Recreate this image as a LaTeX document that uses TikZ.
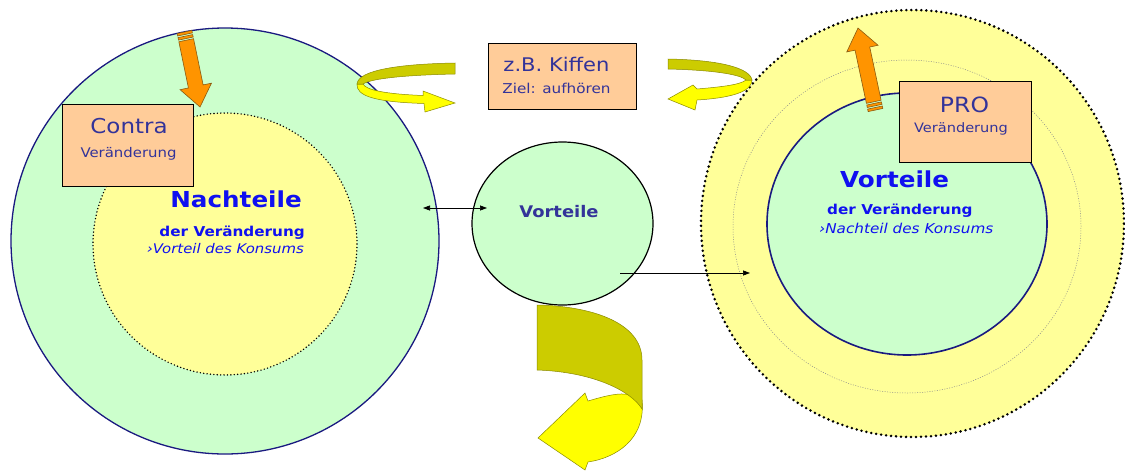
\documentclass[tikz,border=0pt]{standalone}
\usepackage{fontspec}
\setmainfont{DejaVu Sans}[FakeStretch=1.12]
\usetikzlibrary{shapes.geometric,arrows.meta}
\definecolor{pgreen}{HTML}{CCFFCC}
\definecolor{pyellow}{HTML}{FFFF99}
\definecolor{peach}{HTML}{FFCC99}
\definecolor{navy}{HTML}{1A1A80}
\definecolor{tdark}{HTML}{333399}
\definecolor{tblue}{HTML}{1010F0}
\definecolor{olivef}{HTML}{CCCC00}
\definecolor{brightf}{HTML}{FFFF00}
\definecolor{oliveedge}{HTML}{8A8A00}
\definecolor{orng}{HTML}{FF9400}
\definecolor{orngedge}{HTML}{8A5A10}
\newcommand\blockarr[4]{% x, y of tail, angle, length
  \begin{scope}[shift={(#1,#2)}, rotate=#3]
    \fill[orng, draw=orngedge, line width=0.6pt] (0,-7.5) rectangle (2.5,7.5);
    \fill[orng, draw=orngedge, line width=0.6pt] (4.2,-7.5) rectangle (6.7,7.5);
    \filldraw[fill=orng, draw=orngedge, line width=0.6pt]
      (8.4,-7.5) -- ({#4-21},-7.5) -- ({#4-21},-16) -- (#4,0) -- ({#4-21},16) -- ({#4-21},7.5) -- (8.4,7.5) -- cycle;
  \end{scope}}
\begin{document}
\begin{tikzpicture}[x=1pt,y=-1pt,
  circ/.style={ellipse, inner sep=0pt},
  boxst/.style={draw=black, line width=0.9pt, fill=peach, inner sep=0pt},
  txt/.style={inner sep=0pt, text=tdark, anchor=base},
  btxt/.style={inner sep=0pt, text=tblue},
  conn/.style={line width=0.7pt},
  curlA/.style={fill=olivef, draw=oliveedge, line width=0.5pt},
  curlB/.style={fill=brightf, draw=oliveedge, line width=0.5pt}]
\useasboundingbox (0,0) rectangle (1125,472);
\fill[white] (0,0) rectangle (1125,472);

% ---------- left circle ----------
\node[circ, fill=pgreen, draw=navy, line width=1.3pt, minimum width=428pt, minimum height=426pt] (L) at (225,241) {};
\node[circ, fill=pyellow, draw=black, line width=1.6pt, dash pattern=on 0pt off 3.4pt, line cap=round, minimum width=264pt, minimum height=262pt] (Li) at (225,244) {};
\node[boxst, minimum width=131pt, minimum height=82pt, anchor=north west] (contra) at (62,104) {};
\node[txt, font=\fontsize{20.5}{22}\selectfont] (contraT) at (129,133) {Contra};
\node[txt, font=\fontsize{13.3}{15}\selectfont] (contraV) at (128.5,157) {Veränderung};
\blockarr{184.5}{32}{-78.3}{76.6}
\node[btxt, anchor=base east, font=\bfseries\fontsize{22}{24}\selectfont] (nach) at (302,207) {Nachteile};
\node[btxt, anchor=base east, font=\bfseries\fontsize{13.6}{15}\selectfont] (nachD) at (305,236) {der Veränderung};
\node[btxt, anchor=base east, font=\itshape\fontsize{13.3}{15}\selectfont] (nachV) at (304,253) {›Vorteil des Konsums};

% ---------- center circle ----------
\node[circ, fill=pgreen, draw=black, line width=1.2pt, minimum width=181pt, minimum height=163pt] (C) at (562.5,223.5) {};
\node[txt, font=\bfseries\fontsize{16}{18}\selectfont] (cV) at (559,217) {Vorteile};

% ---------- top box ----------
\node[boxst, minimum width=148pt, minimum height=66pt, anchor=north west] (kiff) at (488,43) {};
\node[txt, font=\fontsize{18.8}{20}\selectfont] (kiffT) at (556.5,71) {z.B. Kiffen};
\node[txt, font=\fontsize{13.6}{15}\selectfont] (kiffZ) at (556.5,93) {Ziel: aufhören};

% ---------- right circle ----------
\node[circ, fill=pyellow, draw=black, line width=2.8pt, dash pattern=on 0pt off 5pt, line cap=round, minimum width=423pt, minimum height=427pt] (R) at (912.5,223.5) {};
\node[circ, draw=black!45, line width=0.5pt, dash pattern=on 1pt off 1.5pt, minimum width=348pt, minimum height=333pt] (Rm) at (907,226.5) {};
\node[circ, fill=pgreen, draw=navy, line width=1.6pt, minimum width=280pt, minimum height=262pt] (Ri) at (907,224) {};
\node[boxst, minimum width=132pt, minimum height=81pt, anchor=north west] (pro) at (899,81) {};
\node[txt, font=\fontsize{21}{23}\selectfont] (proT) at (964.5,112) {PRO};
\node[txt, font=\fontsize{13}{15}\selectfont] (proV) at (961,132) {Veränderung};
\blockarr{875.5}{110}{102.05}{83.8}
\node[btxt, anchor=base west, font=\bfseries\fontsize{22}{24}\selectfont] (vor) at (840,187) {Vorteile};
\node[btxt, anchor=base west, font=\bfseries\fontsize{13.6}{15}\selectfont] (vorD) at (827,214) {der Veränderung};
\node[btxt, anchor=base west, font=\itshape\fontsize{13.6}{15}\selectfont] (vorN) at (819,233) {›Nachteil des Konsums};

% ---------- connectors ----------
\coordinate (d1) at (423,208);
\coordinate (d2) at (487,208);
\draw[conn, {Triangle[length=7pt,width=5pt]}-{Triangle[length=7pt,width=5pt]}] (d1) -- (d2);
\coordinate (e1) at (620,273);
\coordinate (e2) at (750,273);
\draw[conn, -{Triangle[length=7pt,width=5pt]}] (e1) -- (e2);

% ---------- left curl ----------
\draw[curlB] (357,84) .. controls (356,96) and (375,102) .. (424,103.5) -- (425,112) -- (455,103) -- (423,91) -- (423,95.5) .. controls (385,94) and (366,90) .. (363,84) -- cycle;
\draw[curlA] (455,63) .. controls (400,64) and (358,70) .. (357,84) -- (363,84) .. controls (372,78) and (410,75) .. (455,74) -- cycle;

% ---------- right curl ----------
\draw[curlB] (752,80) .. controls (752,92) and (730,98) .. (697,100) -- (695,110) -- (668,99) -- (693,85) -- (697,89) .. controls (720,87) and (740,85) .. (746,80) -- cycle;
\draw[curlA] (668,59) .. controls (720,60) and (750,68) .. (752,80) -- (746,80) .. controls (740,74) and (710,70) .. (668,69) -- cycle;

% ---------- bottom curl ----------
\draw[curlB] (642,400) .. controls (646,440) and (615,458) .. (588,462) -- (585,470) -- (538,438) -- (585,393) -- (588,401) .. controls (605,396) and (620,392) .. (630,395) -- cycle;
\draw[curlA] (537,305) .. controls (590,306) and (642,322) .. (642,360) -- (642,409) .. controls (632,392) and (595,372) .. (537,370) -- cycle;
\end{tikzpicture}
\end{document}
